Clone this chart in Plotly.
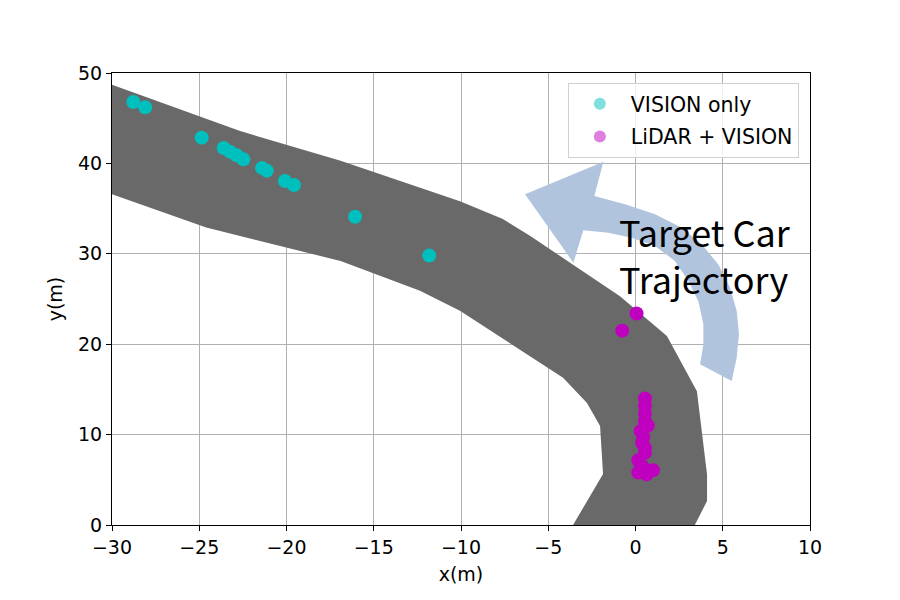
import plotly.graph_objects as go

# Road (target trajectory corridor) boundaries
road_upper_x = [-30.0, -22.7, -16.9, -10.06, -7.6, -6.05, -0.89, 1.8, 3.52, 4.1, 4.1, 3.4]
road_upper_y = [48.7, 43.6, 40.3, 35.8, 33.85, 32.0, 25.3, 20.9, 14.8, 5.6, 2.65, 0.0]
road_lower_x = [-30.0, -24.6, -16.9, -12.35, -10.06, -4.15, -2.78, -2.03, -1.86, -3.58]
road_lower_y = [36.6, 32.9, 29.2, 25.9, 23.7, 16.3, 13.5, 10.95, 5.64, 0.0]

# VISION only detections
vision_x = [-28.78, -28.1, -24.86, -23.6, -23.24, -22.86, -22.47, -21.4, -21.13,
            -20.09, -19.57, -16.07, -11.82]
vision_y = [46.8, 46.2, 42.85, 41.7, 41.3, 40.9, 40.45, 39.5, 39.2,
            38.05, 37.6, 34.1, 29.8]

# LiDAR + VISION detections
fusion_x = [0.06, -0.76, 0.54, 0.54, 0.54, 0.54, 0.7, 0.3, 0.45, 0.38, 0.54, 0.54,
            0.16, 0.38, 1.0, 0.16, 0.64]
fusion_y = [23.4, 21.5, 14.0, 13.2, 12.3, 11.5, 11.0, 10.4, 9.7, 9.1, 8.55, 8.0,
            7.15, 6.5, 6.05, 5.8, 5.6]

# Decorative curved arrow outline
arrow_x = [-6.33, -1.84, -2.36, -0.60, 1.12, 2.65, 3.79, 4.74, 5.42, 5.80, 5.93, 5.80, 5.51,
           3.70, 3.89, 3.89, 3.60, 3.03, 2.26, 1.12, -0.22, -1.56, -2.99, -3.56]
arrow_y = [36.58, 40.19, 36.39, 35.48, 34.37, 32.89, 31.05, 28.84, 26.25, 23.67, 21.10, 18.51, 15.93,
           17.78, 19.99, 22.20, 24.78, 26.99, 29.20, 30.86, 31.78, 32.33, 32.60, 29.02]

x_ticks = [-30, -25, -20, -15, -10, -5, 0, 5, 10]
y_ticks = [0, 10, 20, 30, 40, 50]

CYAN = "#00BFBF"
MAGENTA = "#BF00BF"
ROAD = "#696969"
ARROW = "#B0C4DE"
FONT = "DejaVu Sans"
FS = 19

fig = go.Figure()

road_x = road_upper_x + road_lower_x[::-1]
road_y = road_upper_y + road_lower_y[::-1]
fig.add_trace(go.Scatter(x=road_x, y=road_y, mode="lines", fill="toself",
                         fillcolor=ROAD, line=dict(width=0, color=ROAD),
                         showlegend=False, hoverinfo="skip"))

fig.add_trace(go.Scatter(x=vision_x, y=vision_y, mode="markers",
                         marker=dict(color=CYAN, size=14, line=dict(width=0)),
                         showlegend=False))
fig.add_trace(go.Scatter(x=fusion_x, y=fusion_y, mode="markers",
                         marker=dict(color=MAGENTA, size=14, line=dict(width=0)),
                         showlegend=False))

# legend entries (semi-transparent, as in the reference)
fig.add_trace(go.Scatter(x=[None], y=[None], mode="markers", name="VISION only",
                         legendgroup="a",
                         marker=dict(color=CYAN, size=14, opacity=0.5)))
fig.add_trace(go.Scatter(x=[None], y=[None], mode="markers", name="LiDAR + VISION",
                         legendgroup="b",
                         marker=dict(color=MAGENTA, size=14, opacity=0.5)))

path = "M " + " L ".join(f"{x},{y}" for x, y in zip(arrow_x, arrow_y)) + " Z"
fig.add_shape(type="path", path=path, xref="x", yref="y",
              fillcolor=ARROW, line=dict(width=0), layer="above")

fig.add_annotation(x=-1.05, y=29.9, xref="x", yref="y", text="Target Car<br>Trajectory",
                   showarrow=False, xanchor="left", yanchor="middle", align="left",
                   font=dict(family="Noto Sans CJK KR", size=36, color="black"))

axis_common = dict(showgrid=True, gridcolor="#b0b0b0", gridwidth=1,
                   showline=True, linecolor="black", linewidth=1.2, mirror=True,
                   ticks="outside", ticklen=5, tickwidth=1.2, tickcolor="black",
                   zeroline=False, tickfont=dict(family=FONT, size=FS, color="black"))

fig.update_xaxes(range=[-30, 10], tickvals=x_ticks, **axis_common,
                 title=dict(text="x(m)", font=dict(family=FONT, size=FS, color="black"),
                            standoff=10))
fig.update_yaxes(range=[0, 50], tickvals=y_ticks, **axis_common,
                 title=dict(text="y(m)", font=dict(family=FONT, size=FS, color="black"),
                            standoff=10))

fig.update_layout(
    width=900, height=600,
    margin=dict(l=104, r=98, t=65, b=83),
    plot_bgcolor="white", paper_bgcolor="white",
    font=dict(family=FONT, size=FS, color="black"),
    legend=dict(x=0.984, y=0.978, xanchor="right", yanchor="top",
                bgcolor="rgba(255,255,255,0.8)", bordercolor="#d0d0d0", borderwidth=1,
                font=dict(family=FONT, size=20.5), itemsizing="constant",
                itemwidth=52, traceorder="grouped", tracegroupgap=3),
)

fig.write_html("out.html")
